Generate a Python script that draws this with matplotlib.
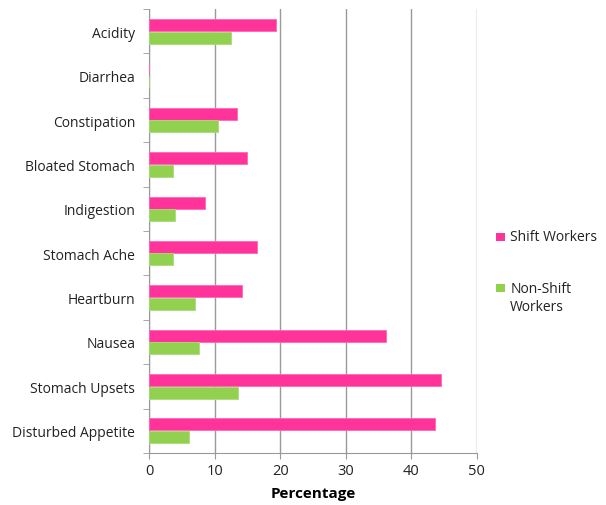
import numpy as np
import matplotlib.pyplot as plt
from matplotlib.patches import Rectangle

# Symptoms, top to bottom as shown
symptoms = ['Acidity', 'Diarrhea', 'Constipation', 'Bloated Stomach', 'Indigestion',
            'Stomach Ache', 'Heartburn', 'Nausea', 'Stomach Upsets', 'Disturbed Appetite']
shift_workers = [19.4, 0, 13.4, 15.0, 8.5, 16.5, 14.1, 36.1, 44.5, 43.6]
non_shift_workers = [12.5, 0, 10.5, 3.6, 4.0, 3.6, 7.0, 7.6, 13.5, 6.1]
series_names = ['Shift Workers', 'Non-Shift\nWorkers']
xticks = [0, 10, 20, 30, 40, 50]

pink = '#FF3399'
green = '#92D050'

plt.rcParams['font.family'] = ['Open Sans', 'DejaVu Sans']

fig = plt.figure(figsize=(6.06, 5.06), dpi=100)
ax = fig.add_axes([0.246, 0.103, 0.541, 0.877])

y = np.arange(len(symptoms))
h = 0.27
ax.barh(y - 0.14, shift_workers, height=h, color=pink, edgecolor='#FF66B3', linewidth=0.6, zorder=3)
ax.barh(y + 0.14, non_shift_workers, height=h, color=green, edgecolor='#A8DC78', linewidth=0.6, zorder=3)

ax.set_ylim(len(symptoms) - 0.5, -0.5)
ax.set_xlim(0, 50)
ax.set_xticks(xticks)
ax.set_xticklabels([str(v) for v in xticks], fontsize=10.5, color='#222222')
ax.set_yticks(y)
ax.set_yticklabels(symptoms, fontsize=10, color='#222222')
ax.tick_params(axis='y', which='major', length=0, pad=10)
ax.set_yticks(np.arange(-0.5, len(symptoms), 1), minor=True)
ax.tick_params(axis='y', which='minor', length=4, color='#999999', direction='out')
ax.tick_params(axis='x', length=4, color='#999999', direction='out', pad=3)

ax.grid(axis='x', color='#999999', linewidth=1, zorder=0)
for s in ['top', 'right']:
    ax.spines[s].set_visible(False)
for s in ['left', 'bottom']:
    ax.spines[s].set_color('#999999')

ax.set_xlabel('Percentage', fontsize=11, fontweight='bold', labelpad=6)

# legend drawn by hand so the marker sits beside the first line of each label
for i, (name, col) in enumerate(zip(series_names, [pink, green])):
    ly = 0.529 - i * 0.101
    fig.patches.append(Rectangle((0.819, ly - 0.008), 0.0145, 0.016, transform=fig.transFigure,
                                 facecolor=col, edgecolor='none'))
    fig.text(0.842, ly + 0.0155, name, fontsize=10, color='#222222', va='top',
             linespacing=1.3, transform=fig.transFigure)

plt.savefig('out.png', dpi=100)
